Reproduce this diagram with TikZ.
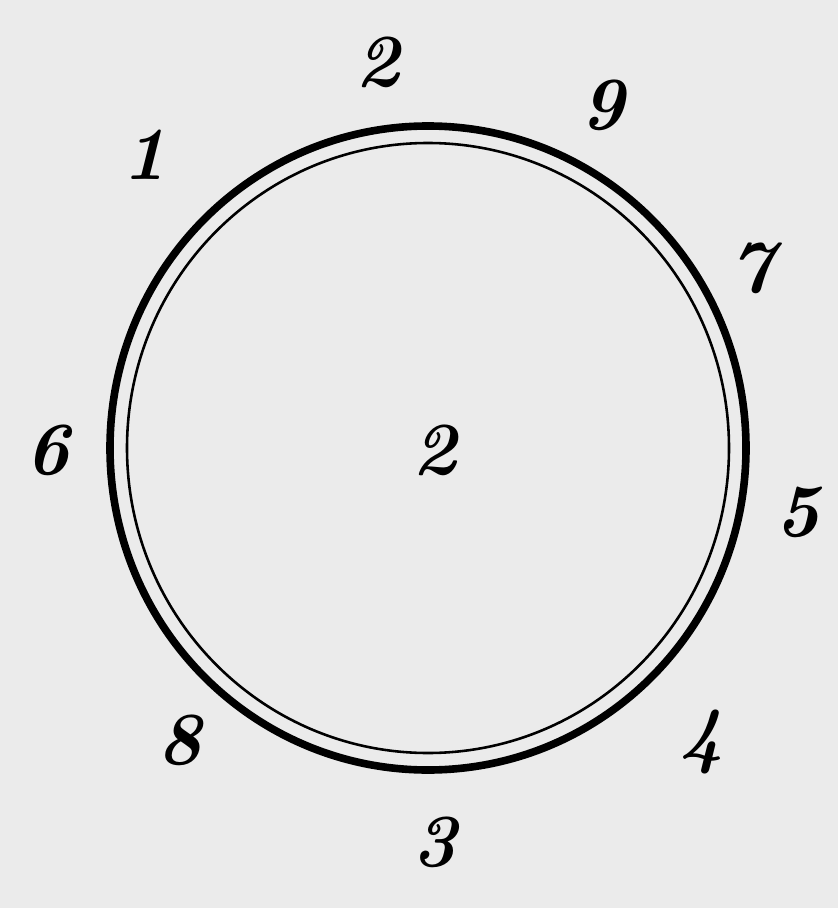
\documentclass[tikz,border=0pt]{standalone}
\begin{document}
\begin{tikzpicture}[
        x=0.03cm,y=-0.03cm,
        num/.style={font=\fontsize{64}{64}\selectfont\bfseries\itshape,inner sep=0pt},
        line cap=round,line join=round
    ]
    \fill[black!8] (0,0) rectangle (838,908);
    \useasboundingbox (0,0) rectangle (838,908);
    \coordinate (o) at (428,448);
    \draw[line width=6.5pt] (o) ellipse [x radius=318, y radius=322];
    \draw[line width=2.2pt] (o) ellipse [x radius=301, y radius=305];
    \node[num] (mid) at (435,450) {2};
    \node[num] (n2) at (378,62) {2};
    \node[num] (n9) at (603,105) {9};
    \node[num] (n1) at (145,155) {1};
    \node[num] (n7) at (752,268) {7};
    \node[num] (n6) at (48,450) {6};
    \node[num] (n5) at (798,512) {5};
    \node[num] (n8) at (180,740) {8};
    \node[num] (n4) at (702,742) {4};
    \node[num] (n3) at (435,842) {3};
\end{tikzpicture}
\end{document}
